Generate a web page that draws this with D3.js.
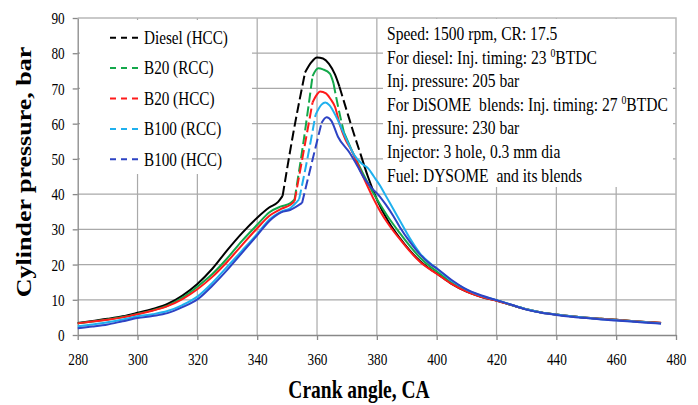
<!DOCTYPE html>
<html>
<head>
<meta charset="utf-8">
<script src="https://cdn.jsdelivr.net/npm/d3@7"></script>
<style>
body { margin: 0; background: #fff; }
text { font-family: "Liberation Serif", "Times New Roman", serif; fill: #000; white-space: pre; }
</style>
</head>
<body>
<script>
// crank angle (deg) vs cylinder pressure (bar)
const dieselHCC = [[280,3.4],[285,4.0],[290,4.6],[295,5.3],[300,6.3],[305,7.4],[310,8.8],[315,11.2],[320,14.5],[325,18.8],[330,24.1],[335,29.0],[340,33.3],[344,36.2],[347,37.8],[348.5,39.5],[352,57.0],[356,74.5],[358,77.3],[360,78.8],[362,78.5],[364,77.0],[366,74.0],[367.5,70.5],[370,63.5],[372,58.0],[374.5,51.5],[377,45.0],[380,38.5],[384,32.0],[387.7,27.5],[391,24.0],[394.4,21.0],[398,18.6],[400,17.5],[405,14.5],[410,12.3],[415,10.8],[420,9.8],[425,8.5],[430,7.3],[435,6.4],[440,5.8],[445,5.3],[450,4.9],[455,4.6],[460,4.3],[465,4.0],[470,3.7],[475,3.4]];
const b20RCC = [[280,3.3],[285,3.8],[290,4.4],[295,5.1],[300,6.0],[305,7.0],[310,8.3],[315,10.6],[320,13.7],[325,17.3],[330,21.8],[335,26.8],[340,31.3],[344,34.8],[348,36.5],[351,37.4],[352.5,38.5],[355.5,55],[358.5,73.5],[360.4,75.7],[362,75.4],[364.3,74.2],[365.5,71.5],[367,65],[369,57.5],[371.6,52.5],[374,48.2],[376.6,43.8],[379,40.0],[381,37.2],[384,33.2],[387.7,28.9],[391,25.3],[394.4,22.0],[398,19.3],[400,18.1],[405,14.9],[410,12.6],[415,11.0],[420,9.8],[425,8.5],[430,7.3],[435,6.4],[440,5.8],[445,5.3],[450,4.9],[455,4.6],[460,4.3],[465,4.0],[470,3.7],[475,3.4]];
const b20HCC = [[280,3.3],[285,3.8],[290,4.3],[295,5.0],[300,5.9],[305,6.9],[310,8.2],[315,10.2],[320,13.0],[325,16.5],[330,20.8],[335,25.6],[340,30.3],[344,33.8],[348,35.8],[351,36.9],[352.5,38],[355.5,52],[358.5,66],[360,68.3],[361,69.1],[363,68.6],[364.5,67],[366,64.8],[367.7,59.5],[369.5,55.5],[371.6,52.3],[374.9,45.9],[378.8,38.8],[381,35.3],[384,31.3],[387.7,27.2],[391,23.8],[394.4,20.8],[398,18.5],[400,17.4],[405,14.5],[410,12.3],[415,10.8],[420,9.7],[425,8.5],[430,7.3],[435,6.4],[440,5.8],[445,5.3],[450,4.9],[455,4.6],[460,4.3],[465,4.0],[470,3.7],[475,3.5]];
const b100RCC = [[280,2.5],[285,3.0],[290,3.6],[295,4.4],[300,5.3],[305,5.9],[310,6.8],[315,8.5],[320,10.9],[325,14.8],[330,19.4],[335,24.0],[340,28.7],[344,32.7],[348,35.0],[351,36.0],[354,38.5],[357,51],[359.5,62.5],[361.5,65.4],[362.8,66.0],[364.2,65.2],[366.5,61.8],[369.9,55.4],[372.5,51],[374.9,48.7],[377.1,47.3],[379,45],[381,42.5],[383,39.5],[385.5,35.8],[388,32.0],[391,27.5],[394.4,23.2],[398,20.2],[400,18.9],[405,15.4],[410,12.9],[415,11.1],[420,9.9],[425,8.6],[430,7.3],[435,6.4],[440,5.8],[445,5.3],[450,4.9],[455,4.5],[460,4.2],[465,3.9],[470,3.6],[475,3.3]];
const b100HCC = [[280,1.9],[285,2.4],[290,3.0],[295,3.9],[300,4.8],[305,5.4],[310,6.2],[315,7.9],[320,10.1],[325,14.0],[330,18.5],[335,23.4],[340,28.3],[344,32.3],[348,34.8],[351,35.5],[355,37.5],[358,48],[361.5,60.2],[363.2,61.8],[364.8,60.8],[367,56.3],[371,51.6],[373.5,48],[375.5,44.9],[378,42],[381,39.3],[383,37.0],[385.5,33.8],[387.7,30.6],[391,26.5],[394.4,22.9],[397.8,20.2],[400.5,18.6],[405,15.6],[409,13.4],[415,11.2],[420,9.9],[425,8.6],[430,7.2],[435,6.3],[440,5.7],[445,5.2],[450,4.8],[455,4.4],[460,4.1],[465,3.8],[470,3.5],[475,3.2]];

const seriesNames = ["Diesel (HCC)", "B20 (RCC)", "B20 (HCC)", "B100 (RCC)", "B100 (HCC)"];
const seriesData = [dieselHCC, b20RCC, b20HCC, b100RCC, b100HCC];

const xTicks = [280, 300, 320, 340, 360, 380, 400, 420, 440, 460, 480];
const yTicks = [0, 10, 20, 30, 40, 50, 60, 70, 80, 90];

const notes = [
    "Speed: 1500 rpm, CR: 17.5",
    ["For diesel: Inj. timing: 23 ", "0", "BTDC"],
    "Inj. pressure: 205 bar",
    ["For DiSOME  blends: Inj. timing: 27 ", "0", "BTDC"],
    "Inj. pressure: 230 bar",
    "Injector: 3 hole, 0.3 mm dia",
    "Fuel: DYSOME  and its blends"
];

// styling
const colors = ["#000000", "#13a84a", "#ff1a1a", "#1fb0ee", "#2d43c4"];
// angle spans where the steep part of each trace shows as dashes
const dashedSpans = [
    [[348.5, 356], [367.5, 374.5]],
    [[352.5, 358.5], [365.5, 369]],
    [[352.5, 358.5]],
    [[354, 359.5]],
    [[355, 361.5]]
];

const width = 698, height = 405;
const plot = {left: 77.7, right: 676, top: 18, bottom: 335};
const squeeze = 0.78;

const svg = d3.select("body")
    .append("svg")
    .attr("width", width)
    .attr("height", height);

svg.append("rect").attr("width", width).attr("height", height).attr("fill", "#fff");

const xScale = d3.scaleLinear().domain([280, 480]).range([plot.left, plot.right]);
const yScale = d3.scaleLinear().domain([0, 90]).range([plot.bottom, plot.top]);

// gridlines
svg.append("g")
    .selectAll("line")
    .data(yTicks.filter(d => d > 0 && d < 90))
    .join("line")
    .attr("x1", plot.left).attr("x2", plot.right)
    .attr("y1", d => yScale(d)).attr("y2", d => yScale(d))
    .attr("stroke", "#a9a9a9").attr("stroke-width", 1.2);

svg.append("g")
    .selectAll("line")
    .data(xTicks.filter(d => d > 280 && d < 480))
    .join("line")
    .attr("x1", d => xScale(d)).attr("x2", d => xScale(d))
    .attr("y1", plot.top).attr("y2", plot.bottom)
    .attr("stroke", "#a9a9a9").attr("stroke-width", 1.2);

// plot area border (top and right)
svg.append("path")
    .attr("d", `M${plot.left},${plot.top}H${plot.right}V${plot.bottom}`)
    .attr("fill", "none")
    .attr("stroke", "#b8b8b8")
    .attr("stroke-width", 1.5);

// x axis
const xAxis = svg.append("g")
    .attr("transform", `translate(0,${plot.bottom})`)
    .call(d3.axisBottom(xScale).tickValues(xTicks).tickSize(5).tickSizeOuter(0));
xAxis.select(".domain").attr("stroke", "#888").attr("stroke-width", 1.3);
xAxis.selectAll(".tick line").attr("stroke", "#888").attr("stroke-width", 1.3);
xAxis.selectAll(".tick text")
    .attr("y", 0).attr("dy", 0)
    .attr("font-size", 17)
    .attr("transform", `translate(0,29.5) scale(${squeeze},1)`);

// y axis
const yAxis = svg.append("g")
    .attr("transform", `translate(${plot.left},0)`)
    .call(d3.axisLeft(yScale).tickValues(yTicks).tickSize(5).tickSizeOuter(0));
yAxis.select(".domain").attr("stroke", "#888").attr("stroke-width", 1.3);
yAxis.selectAll(".tick line").attr("stroke", "#888").attr("stroke-width", 1.3);
yAxis.selectAll(".tick text")
    .attr("x", 0).attr("dy", "0.33em")
    .attr("font-size", 17)
    .attr("transform", `translate(-13,0) scale(${squeeze},1)`);

// axis titles
svg.append("text")
    .attr("transform", `translate(359,398) scale(${squeeze},1)`)
    .attr("text-anchor", "middle")
    .attr("font-size", 25)
    .attr("font-weight", "bold")
    .text("Crank angle, CA");

svg.append("text")
    .attr("transform", `translate(31,172) scale(${squeeze},1) rotate(-90)`)
    .attr("text-anchor", "middle")
    .attr("font-size", 26)
    .attr("font-weight", "bold")
    .text("Cylinder pressure, bar");

// split each trace into solid and dashed runs
function splitRuns(points, spans) {
    const dashedAt = (a, b) => spans.some(s => (a + b) / 2 > s[0] && (a + b) / 2 < s[1]);
    let runs = [];
    let cur = null;
    for (let i = 0; i < points.length - 1; i++) {
        const dashed = dashedAt(points[i][0], points[i + 1][0]);
        if (!cur || cur.dashed !== dashed) {
            cur = {dashed: dashed, pts: [points[i]]};
            runs.push(cur);
        }
        cur.pts.push(points[i + 1]);
    }
    return runs;
}

const line = d3.line()
    .x(d => xScale(d[0]))
    .y(d => yScale(d[1]))
    .curve(d3.curveMonotoneX);

seriesData.forEach((data, i) => {
    const g = svg.append("g");
    splitRuns(data, dashedSpans[i]).forEach(run => {
        g.append("path")
            .attr("d", line(run.pts))
            .attr("fill", "none")
            .attr("stroke", colors[i])
            .attr("stroke-width", 2)
            .attr("stroke-dasharray", run.dashed ? "10,4" : null);
    });
});

// legend box
const legend = svg.append("g");
legend.append("rect")
    .attr("x", 80).attr("y", 20).attr("width", 172).attr("height", 154)
    .attr("fill", "#fff");
seriesNames.forEach((name, i) => {
    const y = 37.7 + i * 30.4;
    legend.append("line")
        .attr("x1", 110).attr("x2", 138)
        .attr("y1", y).attr("y2", y)
        .attr("stroke", colors[i])
        .attr("stroke-width", 2)
        .attr("stroke-dasharray", "6,5");
    legend.append("text")
        .attr("transform", `translate(144,${y + 6.2}) scale(0.8,1)`)
        .attr("font-size", 19)
        .text(name);
});

// test conditions box
const note = svg.append("g");
note.append("rect")
    .attr("x", 383).attr("y", 19).attr("width", 290).attr("height", 168)
    .attr("fill", "#fff");
notes.forEach((n, i) => {
    const t = note.append("text")
        .attr("transform", `translate(387,${40 + i * 23.6}) scale(0.82,1)`)
        .attr("font-size", 19);
    if (typeof n === "string") {
        t.text(n);
    } else {
        t.append("tspan").text(n[0]);
        t.append("tspan").attr("font-size", 12).attr("dy", -7).text(n[1]);
        t.append("tspan").attr("dy", 7).text(n[2]);
    }
});
</script>
</body>
</html>
